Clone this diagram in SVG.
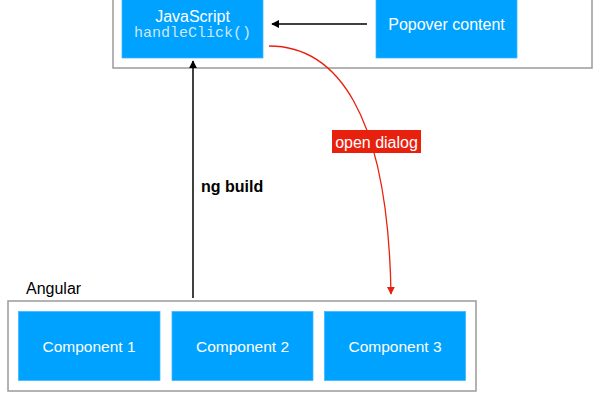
<svg xmlns="http://www.w3.org/2000/svg" width="600" height="400" viewBox="0 0 600 400">
<defs>
<style>
.container{fill:#fff;stroke:#9a9a9a;stroke-width:1.5}
.box{fill:#00a2ff;stroke:#3fb6ff;stroke-width:0.75}
.lbl{font-family:"Liberation Sans",Arial,sans-serif;font-size:16px;fill:#fff;text-anchor:middle}
.mono{font-family:"Liberation Mono","Courier New",monospace;font-size:15px;fill:#cfe6f7;text-anchor:middle}
.plain{font-family:"Liberation Sans",Arial,sans-serif;font-size:16px;fill:#000}
</style>
<marker id="ab" viewBox="0 0 10 10" refX="9" refY="5" markerWidth="8" markerHeight="8" markerUnits="userSpaceOnUse" orient="auto"><path d="M0,0 L10,5 L0,10 z" fill="#000"/></marker>
<marker id="ar" viewBox="0 0 10 10" refX="9" refY="5" markerWidth="8" markerHeight="8" markerUnits="userSpaceOnUse" orient="auto"><path d="M0,0 L10,5 L0,10 z" fill="#e8200e"/></marker>
</defs>
<rect width="600" height="400" fill="#fff"/>
<g id="browser">
<rect class="container" x="113" y="-20" width="479" height="88"/>
</g>
<g id="angular">
<rect class="container" x="8" y="301" width="468" height="90"/>
<text class="plain" x="26" y="294">Angular</text>
</g>
<g id="javascript">
<rect class="box" x="122" y="-10" width="141" height="68"/>
<text class="lbl" x="192.5" y="21.5">JavaScript</text>
<text class="mono" x="192.5" y="37">handleClick()</text>
</g>
<g id="popover">
<rect class="box" x="376" y="-10" width="141" height="68"/>
<text class="lbl" x="446.5" y="30">Popover content</text>
</g>
<g id="component1">
<rect class="box" x="18.5" y="311.5" width="141.5" height="69"/>
<text class="lbl" x="89" y="351.5" style="font-size:15.5px">Component 1</text>
</g>
<g id="component2">
<rect class="box" x="172" y="311.5" width="141" height="69"/>
<text class="lbl" x="242.5" y="351.5" style="font-size:15.5px">Component 2</text>
</g>
<g id="component3">
<rect class="box" x="324.5" y="311.5" width="141" height="69"/>
<text class="lbl" x="395" y="351.5" style="font-size:15.5px">Component 3</text>
</g>
<g id="connectors">
<line x1="367" y1="24" x2="272" y2="24" stroke="#000" stroke-width="1.5" marker-end="url(#ab)"/>
<line x1="193" y1="298" x2="193" y2="61" stroke="#000" stroke-width="1.5" marker-end="url(#ab)"/>
<text class="plain" x="201" y="191.5" style="font-weight:bold">ng build</text>
<path d="M269,46 C335,46 388,110 391,294" fill="none" stroke="#e8200e" stroke-width="1.3" marker-end="url(#ar)"/>
<rect x="332" y="130" width="89" height="23" fill="#e8200e"/>
<text class="lbl" x="376.5" y="148">open dialog</text>
</g>
</svg>
